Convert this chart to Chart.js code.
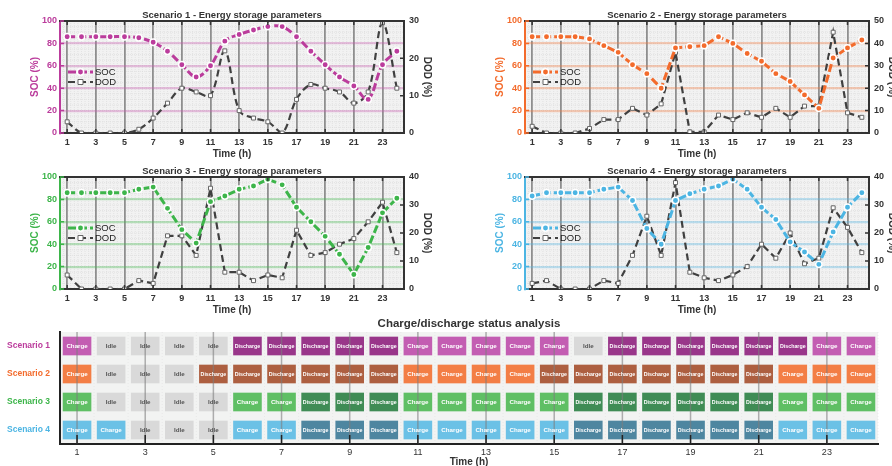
<!DOCTYPE html>
<html>
<head>
<meta charset="utf-8">
<script src="https://cdn.jsdelivr.net/npm/chart.js@4/dist/chart.umd.min.js"></script>
<style>
  body { margin: 0; width: 892px; height: 466px; overflow: hidden; background: #fff; position: relative; }
  canvas { position: absolute; }
</style>
</head>
<body>
<canvas id="s1" width="446" height="160" style="left:0;top:0"></canvas>
<canvas id="s2" width="446" height="160" style="left:465px;top:0"></canvas>
<canvas id="s3" width="446" height="160" style="left:0;top:156px"></canvas>
<canvas id="s4" width="446" height="160" style="left:465px;top:156px"></canvas>
<canvas id="status" width="892" height="160" style="left:0;top:310px"></canvas>
<script>
'use strict'

const hours = [1, 2, 3, 4, 5, 6, 7, 8, 9, 10, 11, 12, 13, 14, 15, 16, 17, 18, 19, 20, 21, 22, 23, 24];
const scenarioNames = ['Scenario 1', 'Scenario 2', 'Scenario 3', 'Scenario 4'];

const soc1 = [86, 86, 86, 86, 86, 85, 81, 73, 61, 50, 60, 82, 88, 92, 95, 95, 86, 73, 61, 50, 42, 30, 61, 73];
const dod1 = [3, 0, 0, 0, 0, 1, 4, 8, 12, 11, 10, 22, 6, 4, 3, 0, 9, 13, 12, 11, 8, 11, 29.5, 12];
const soc2 = [86, 86, 86, 86, 84, 78, 72, 61, 53, 40, 76, 77, 78, 86, 80, 71, 64, 53, 46, 34, 22, 67, 76, 83];
const dod2 = [3, 0, 0, 0, 2, 6, 6, 11, 8, 13, 36, 0.5, 0.5, 8, 6, 9, 7, 11, 7, 12, 12, 45, 9, 7];
const soc3 = [86, 86, 86, 86, 86, 89, 91, 72, 53, 41, 78, 83, 89, 92, 98, 93, 73, 60, 47, 31, 13, 37, 68, 81];
const dod3 = [5, 0, 0, 0, 0, 3, 2, 19, 19, 12, 36, 6, 6, 3, 5, 4, 21, 12, 13, 16, 18, 24, 31, 13];
const soc4 = [83, 86, 86, 86, 86, 89, 91, 79, 54, 40, 79, 85, 89, 92, 98, 89, 73, 62, 42, 33, 22, 51, 73, 86];
const dod4 = [2, 3, 0, 0, 0, 3, 2, 12, 26, 12, 38, 6, 4, 3, 5, 8, 16, 11, 20, 9, 11, 29, 22, 13];
const dodMax = [30, 50, 40, 40];

const C = 'Charge', I = 'Idle', D = 'Discharge';
const status1 = [C, I, I, I, I, D, D, D, D, D, C, C, C, C, C, I, D, D, D, D, D, D, C, C];
const status2 = [C, I, I, I, D, D, D, D, D, D, C, C, C, C, D, D, D, D, D, D, D, C, C, C];
const status3 = [C, I, I, I, I, C, C, D, D, D, C, C, C, C, C, D, D, D, D, D, D, C, C, C];
const status4 = [C, C, I, I, I, C, C, D, D, D, C, C, C, C, C, D, D, D, D, D, D, C, C, C];

// colours
const lineColors = ['#bb3c9c', '#f36b2c', '#3db54a', '#4cb5e3'];
const gridColors = ['rgba(200,90,175,0.35)', 'rgba(243,120,60,0.35)', 'rgba(70,185,80,0.35)', 'rgba(80,180,225,0.35)'];
const boxColors = {
  Charge: ['#c35db2', '#f37e45', '#5fbf64', '#6bc1e6'],
  Discharge: ['#99368a', '#ad5f40', '#3f8c55', '#4e86a0'],
  Idle: ['#d9d9d9', '#d9d9d9', '#d9d9d9', '#d9d9d9'],
};

const FONT = "'Liberation Sans', Arial, sans-serif";
Chart.defaults.font.family = FONT;

const framePlugin = {
  id: 'frame',
  beforeDraw(chart, args, opts) {
    const {ctx, chartArea: a, scales: {x, y}} = chart;
    ctx.save();
    ctx.fillStyle = '#f2f2f2';
    ctx.fillRect(a.left, a.top, a.width, a.height);
    ctx.strokeStyle = '#d8d8d8';
    ctx.lineWidth = 0.6;
    ctx.setLineDash([1, 1]);
    ctx.beginPath();
    for (let v = -0.5; v <= hours.length - 0.5; v += 0.25) {
      const px = x.getPixelForValue(v);
      ctx.moveTo(px, a.top); ctx.lineTo(px, a.bottom);
    }
    for (let v = 0; v <= 100; v += 5) {
      const py = y.getPixelForValue(v);
      ctx.moveTo(a.left, py); ctx.lineTo(a.right, py);
    }
    ctx.stroke();
    ctx.restore();
  },
  afterDraw(chart, args, opts) {
    const {ctx, chartArea: a, scales: {x, y, y1}} = chart;
    ctx.save();
    // top frame
    ctx.strokeStyle = '#333';
    ctx.lineWidth = 2;
    ctx.beginPath();
    ctx.moveTo(a.left - 1, a.top); ctx.lineTo(a.right + 1, a.top);
    ctx.stroke();
    // inward ticks
    ctx.lineWidth = 1.5;
    ctx.beginPath();
    hours.forEach((h, i) => {
      if (i % 2) return;
      const px = x.getPixelForValue(i);
      ctx.moveTo(px, a.top); ctx.lineTo(px, a.top + 4);
      ctx.moveTo(px, a.bottom); ctx.lineTo(px, a.bottom - 4);
    });
    y1.ticks.forEach(t => {
      const py = y1.getPixelForValue(t.value);
      ctx.moveTo(a.right, py); ctx.lineTo(a.right - 4, py);
    });
    ctx.stroke();
    ctx.strokeStyle = opts.color;
    ctx.beginPath();
    y.ticks.forEach(t => {
      const py = y.getPixelForValue(t.value);
      ctx.moveTo(a.left, py); ctx.lineTo(a.left + 4, py);
    });
    ctx.stroke();
    // title
    ctx.fillStyle = '#333';
    ctx.font = 'bold 9.5px ' + FONT;
    ctx.textAlign = 'center';
    ctx.textBaseline = 'middle';
    ctx.fillText(opts.title, (a.left + a.right) / 2, 15);
    // legend
    const lx = a.left + 8, ly = a.top + 51;
    ctx.textAlign = 'left';
    ctx.font = '9.5px ' + FONT;
    chart.data.datasets.forEach((ds, k) => {
      const yy = ly + k * 10;
      ctx.strokeStyle = ds.borderColor;
      ctx.lineWidth = ds.borderWidth;
      ctx.setLineDash(ds.borderDash);
      ctx.beginPath();
      ctx.moveTo(lx, yy); ctx.lineTo(lx + 25, yy);
      ctx.stroke();
      ctx.setLineDash([]);
      ctx.fillStyle = ds.pointBackgroundColor;
      ctx.strokeStyle = ds.pointBorderColor;
      ctx.lineWidth = ds.pointBorderWidth;
      ctx.beginPath();
      if (ds.pointStyle === 'rect') ctx.rect(lx + 10, yy - 2.5, 5, 5);
      else ctx.arc(lx + 12.5, yy, 3.2, 0, Math.PI * 2);
      ctx.fill(); ctx.stroke();
      ctx.fillStyle = '#222';
      ctx.fillText(ds.label, lx + 27, yy + 0.5);
    });
    ctx.restore();
  }
};

function energyChart(id, k, soc, dod, tension) {
  const color = lineColors[k];
  return new Chart(document.getElementById(id), {
    type: 'line',
    data: {
      labels: hours,
      datasets: [{
        label: 'SOC',
        data: soc,
        yAxisID: 'y',
        borderColor: color,
        borderWidth: 3,
        borderDash: [8, 3],
        pointRadius: 3.2,
        pointBackgroundColor: color,
        pointBorderColor: '#fff',
        pointBorderWidth: 1.5,
        tension: tension,
      }, {
        label: 'DOD',
        data: dod,
        yAxisID: 'y1',
        borderColor: '#404040',
        borderWidth: 2.2,
        borderDash: [7, 4],
        pointStyle: 'rect',
        pointRadius: 2.8,
        pointBackgroundColor: '#fff',
        pointBorderColor: '#666',
        pointBorderWidth: 1,
        tension: tension,
      }]
    },
    options: {
      responsive: false,
      animation: false,
      layout: { padding: { top: 21 } },
      plugins: {
        legend: { display: false },
        tooltip: { enabled: false },
        frame: { title: scenarioNames[k] + ' - Energy storage parameters', color: color },
      },
      scales: {
        x: {
          offset: true,
          afterFit: s => { s.height = 27; },
          grid: {
            drawTicks: false,
            lineWidth: 1.8,
            color: c => c.index % 2 === 0 ? '#8f8f8f' : 'transparent',
          },
          border: { color: '#333', width: 2 },
          ticks: {
            autoSkip: false, maxRotation: 0, padding: 4,
            color: '#333', font: { size: 9, weight: 'bold' },
            callback: (v, i) => i % 2 === 0 ? hours[i] : '',
          },
          title: { display: true, text: 'Time (h)', color: '#333', font: { size: 10, weight: 'bold' }, padding: 0 },
        },
        y: {
          position: 'left',
          min: 0, max: 100,
          afterFit: s => { s.width = 60; },
          grid: {
            drawTicks: false,
            lineWidth: 2.2,
            color: c => (c.tick.value > 0 && c.tick.value < 100) ? gridColors[k] : 'transparent',
          },
          border: { color: color, width: 2 },
          ticks: { stepSize: 20, padding: 3, color: color, font: { size: 9, weight: 'bold' } },
          title: { display: true, text: 'SOC (%)', color: color, font: { size: 10, weight: 'bold' }, padding: { top: 29, bottom: 0 } },
        },
        y1: {
          position: 'right',
          min: 0, max: dodMax[k],
          afterFit: s => { s.width = 42; },
          grid: { drawOnChartArea: false, drawTicks: false },
          border: { color: '#333', width: 2 },
          ticks: { stepSize: 10, padding: 5, color: '#333', font: { size: 9, weight: 'bold' } },
          title: { display: true, text: 'DOD (%)', color: '#333', font: { size: 10, weight: 'bold' }, padding: { top: 13, bottom: 0 } },
        },
      },
    },
    plugins: [framePlugin],
  });
}

energyChart('s1', 0, soc1, dod1, 0.35);
energyChart('s2', 1, soc2, dod2, 0);
energyChart('s3', 2, soc3, dod3, 0);
energyChart('s4', 3, soc4, dod4, 0);

// charge / discharge status
const statuses = [status1, status2, status3, status4];
const boxHalf = 0.41;

const statusPlugin = {
  id: 'statusDecor',
  beforeDraw(chart) {
    const {ctx, chartArea: a, scales: {x}} = chart;
    ctx.save();
    ctx.fillStyle = '#f2f3f2';
    ctx.fillRect(a.left, a.top, a.width, a.height);
    ctx.strokeStyle = '#e2e2e2';
    ctx.lineWidth = 0.6;
    ctx.setLineDash([1, 2]);
    ctx.beginPath();
    hours.forEach(h => {
      const px = x.getPixelForValue(h + 0.5);
      ctx.moveTo(px, a.top); ctx.lineTo(px, a.bottom);
    });
    ctx.stroke();
    ctx.restore();
  },
  afterDatasetsDraw(chart) {
    const {ctx, chartArea: a, scales: {x}} = chart;
    ctx.save();
    ctx.strokeStyle = 'rgba(125,125,125,0.6)';
    ctx.lineWidth = 1.5;
    ctx.beginPath();
    hours.forEach(h => {
      if (h % 2 === 0) return;
      const px = x.getPixelForValue(h);
      ctx.moveTo(px, a.top); ctx.lineTo(px, a.bottom);
    });
    ctx.stroke();
    ctx.textAlign = 'center';
    ctx.textBaseline = 'middle';
    chart.data.datasets.forEach((ds, i) => {
      chart.getDatasetMeta(i).data.forEach((bar, s) => {
        const st = ds.status[s];
        ctx.font = (st === 'Discharge' ? 'bold 5.3px ' : 'bold 6.2px ') + FONT;
        ctx.fillStyle = st === 'Idle' ? '#555' : '#fff';
        ctx.fillText(st, (bar.x + bar.base) / 2, bar.y + 0.5);
      });
    });
    ctx.restore();
  },
  afterDraw(chart) {
    const {ctx, chartArea: a, scales: {x}} = chart;
    ctx.save();
    ctx.strokeStyle = '#222';
    ctx.lineWidth = 1.5;
    ctx.beginPath();
    hours.forEach(h => {
      if (h % 2 === 0) return;
      const px = x.getPixelForValue(h);
      ctx.moveTo(px, a.bottom); ctx.lineTo(px, a.bottom - 9);
    });
    ctx.stroke();
    ctx.fillStyle = '#333';
    ctx.font = 'bold 11.5px ' + FONT;
    ctx.textAlign = 'center';
    ctx.textBaseline = 'middle';
    ctx.fillText('Charge/discharge status analysis', (a.left + a.right) / 2, 14);
    ctx.restore();
  }
};

new Chart(document.getElementById('status'), {
  type: 'bar',
  data: {
    labels: scenarioNames,
    datasets: hours.map((h, i) => ({
      data: statuses.map(() => [h - boxHalf, h + boxHalf]),
      status: statuses.map(st => st[i]),
      backgroundColor: statuses.map((st, s) => boxColors[st[i]][s]),
      barThickness: 18,
      grouped: false,
    })),
  },
  options: {
    indexAxis: 'y',
    responsive: false,
    animation: false,
    layout: { padding: { top: 22, right: 14 } },
    plugins: { legend: { display: false }, tooltip: { enabled: false } },
    scales: {
      x: {
        type: 'linear',
        min: 0.5, max: 24.5,
        afterFit: s => { s.height = 26; },
        afterBuildTicks: s => { s.ticks = hours.filter(h => h % 2 === 1).map(h => ({ value: h })); },
        grid: { display: false, drawTicks: false },
        border: { color: '#222', width: 2 },
        ticks: { padding: 3, color: '#333', font: { size: 9 } },
        title: { display: true, text: 'Time (h)', color: '#333', font: { size: 10, weight: 'bold' }, padding: { top: 0, bottom: 2 } },
      },
      y: {
        afterFit: s => { s.width = 60; },
        grid: { display: false, drawTicks: false },
        border: { color: '#222', width: 2 },
        ticks: { padding: 10, color: c => lineColors[c.index], font: { size: 8.5, weight: 'bold' } },
      },
    },
  },
  plugins: [statusPlugin],
});
</script>
</body>
</html>
